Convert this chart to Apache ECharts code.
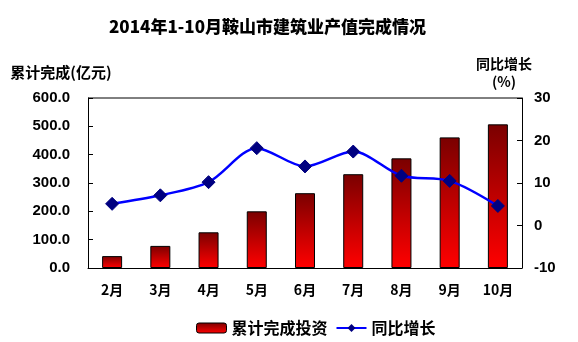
<!DOCTYPE html>
<html><head><meta charset="utf-8">
<script src="https://cdn.jsdelivr.net/npm/echarts@6/dist/echarts.min.js"></script>
<style>html,body{margin:0;padding:0;background:#fff}#c{width:578px;height:342px}</style>
</head><body><div id="c"></div>
<script>
var categories = ['2月','3月','4月','5月','6月','7月','8月','9月','10月'];
var investment = [42, 78, 126, 200, 264, 331, 387, 461, 507];
var growth = [5.1, 7.1, 10.2, 18.2, 13.9, 17.4, 11.7, 10.5, 4.6];
var leftTicks = {min: 0, max: 600, interval: 100};
var rightTicks = {min: -10, max: 30, interval: 10};

var font = '"Noto Sans CJK SC", "Liberation Sans", sans-serif';
var numFont = '"Liberation Sans", Arial, sans-serif';
var chart = echarts.init(document.getElementById('c'));
var barGrad = new echarts.graphic.LinearGradient(0,0,0,1,[{offset:0,color:'#7a0000'},{offset:0.6,color:'#cc0000'},{offset:1,color:'#ff0000'}]);
chart.setOption({
  animation: false,
  backgroundColor: '#fff',
  title: {text: '2014年1-10月鞍山市建筑业产值完成情况', left: 104, top: 13,
    textStyle: {fontFamily: font, fontSize: 17, fontWeight: 900, color: '#000'}},
  legend: {top: 315, left: 191, itemGap: 8, itemWidth: 30, itemHeight: 10,
    textStyle: {fontFamily: font, fontSize: 16, fontWeight: 'bold', color: '#000'},
    data: [{name: '累计完成投资', itemStyle: {color: barGrad, borderColor: '#000', borderWidth: 1}},
           {name: '同比增长'}]},
  grid: {left: 88, right: 56, top: 98, bottom: 74},
  xAxis: {type: 'category', data: categories,
    axisLine: {lineStyle: {color: '#000', width: 1}},
    axisTick: {inside: true, length: 5, lineStyle: {color: '#000'}},
    axisLabel: {fontFamily: font, fontSize: 14, fontWeight: 'bold', color: '#000', margin: 15}},
  yAxis: [
    {type: 'value', min: leftTicks.min, max: leftTicks.max, interval: leftTicks.interval,
     name: '累计完成(亿元)', nameLocation: 'end', nameGap: 18,
     nameTextStyle: {fontFamily: font, fontSize: 15, fontWeight: 'bold', color: '#000', align: 'center', verticalAlign: 'bottom', padding: [0,54,0,0]},
     axisLine: {show: true, lineStyle: {color: '#000'}},
     axisTick: {show: true, inside: true, length: 5, lineStyle: {color: '#000'}},
     splitLine: {show: false},
     axisLabel: {fontFamily: numFont, fontSize: 15, fontWeight: 'bold', color: '#000', margin: 18,
       formatter: function(v){return v.toFixed(1);}}},
    {type: 'value', min: rightTicks.min, max: rightTicks.max, interval: rightTicks.interval,
     name: '同比增长\n(%)', nameLocation: 'end', nameGap: 1,
     nameTextStyle: {fontFamily: font, fontSize: 14, fontWeight: 'bold', color: '#000', align: 'center', verticalAlign: 'bottom', lineHeight: 18, padding: [0,36,0,0]},
     axisLine: {show: true, lineStyle: {color: '#000'}},
     axisTick: {show: true, inside: true, length: 5, lineStyle: {color: '#000'}},
     splitLine: {show: false},
     axisLabel: {fontFamily: numFont, fontSize: 15, fontWeight: 'bold', color: '#000', margin: 12}}
  ],
  series: [
    {name: '累计完成投资', type: 'bar', data: investment, barWidth: 20,
     itemStyle: {color: barGrad, borderColor: '#000', borderWidth: 1}},
    {name: '同比增长', type: 'line', yAxisIndex: 1, data: growth, smooth: 0.3,
     symbol: 'diamond', symbolSize: 13,
     lineStyle: {color: '#0000ff', width: 2.5},
     itemStyle: {color: '#000080', borderColor: '#000080'}}
  ],
  graphic: [{type: 'line', shape: {x1: 88, y1: 98, x2: 522, y2: 98}, style: {stroke: '#000', lineWidth: 1}, silent: true}]
});
</script></body></html>
